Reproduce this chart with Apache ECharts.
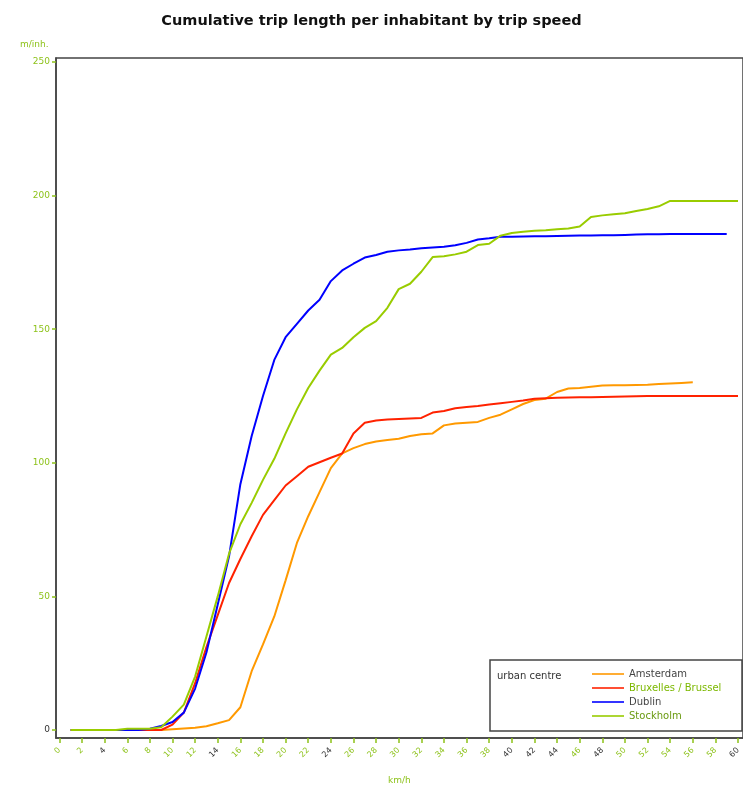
<!DOCTYPE html>
<html>
<head>
<meta charset="utf-8">
<title>Cumulative trip length per inhabitant by trip speed</title>
<script src="https://cdn.jsdelivr.net/npm/echarts@6/dist/echarts.min.js"></script>
<style>
  html, body { margin: 0; padding: 0; background: #fff; }
  #chart { width: 743px; height: 788px; }
</style>
</head>
<body>
<div id="chart"></div>
<script>
// Trip speed classes (km/h)
const speeds = [1,2,3,4,5,6,7,8,9,10,11,12,13,14,15,16,17,18,19,20,
  21,22,23,24,25,26,27,28,29,30,31,32,33,34,35,36,37,38,39,40,
  41,42,43,44,45,46,47,48,49,50,51,52,53,54,55,56,57,58,59,60];

// Cumulative trip length per inhabitant (m/inh.) for each speed class
const amsterdam = [0,0,0,0,0,0,0,0,0,0.3,0.6,0.8,1.4,2.5,3.7,8.5,22,32,42.5,56,
  70,80,89,98,103.5,105.5,107,108,108.5,109,110,110.7,111,114,114.7,115,115.3,116.8,118,120,
  122,123.5,124,126.5,127.8,128,128.5,128.9,129,129,129.1,129.2,129.5,129.7,129.9,130.1,null,null,null,null];

const bruxelles = [0,0,0,0,0,0,0,0,0,2,6.5,17.5,31,43,55,64,72.5,80.5,86,91.5,
  95,98.5,100.2,101.9,103.5,111,115,115.8,116.2,116.4,116.6,116.8,118.8,119.4,120.4,120.9,121.3,121.8,122.3,122.8,
  123.3,124,124.2,124.3,124.4,124.5,124.5,124.6,124.7,124.8,124.9,125,125,125,125,125,125,125,125,125];

const dublin = [0,0,0,0,0,0,0,0.5,1.5,3,6.5,15.5,29,47,65,92,110,125,138.5,147,
  152,157,161,168,172,174.5,176.8,177.8,179,179.5,179.8,180.3,180.6,180.9,181.4,182.3,183.6,184,184.6,184.6,
  184.7,184.8,184.8,184.9,185,185.1,185.1,185.2,185.2,185.3,185.4,185.5,185.5,185.6,185.6,185.6,185.6,185.6,185.6,null];

const stockholm = [0,0,0,0,0,0.5,0.5,0.5,1,5,9.5,20,35,50,66,77,85,93.6,101.5,111,
  120,128,134.5,140.5,143,147,150.5,153,158,165,167,171.5,177,177.3,178,179,181.5,182,185,186,
  186.5,186.8,187,187.4,187.7,188.4,192,192.6,193,193.4,194.2,195,196,198,198,198,198,198,198,198];

const seriesNames = ['Amsterdam', 'Bruxelles / Brussel', 'Dublin', 'Stockholm'];
const seriesColors = ['#ff9900', '#ff2200', '#0000ff', '#99cc00'];

// Axis tick labels
const xTicks = [0,2,4,6,8,10,12,14,16,18,20,22,24,26,28,30,32,34,36,38,40,42,44,46,48,50,52,54,56,58,60];
const yTicks = [0,50,100,150,200,250];

const green = '#8dc21a';
const darkLabels = [4, 14, 24, 40, 42, 44, 48, 60];

function pairs(values) {
  return speeds.map((s, i) => [s, values[i]]);
}

const chart = echarts.init(document.getElementById('chart'));

const seriesData = [amsterdam, bruxelles, dublin, stockholm];
const legendIcon = 'path://M0,4.2H32V5.8H0Z';
const legendTextColors = ['#444', '#7cb800', '#444', '#6a9a10'];

chart.setOption({
  animation: false,
  backgroundColor: '#ffffff',
  title: {
    text: 'Cumulative trip length per inhabitant by trip speed',
    left: 'center',
    top: 9,
    textStyle: {
      fontFamily: 'DejaVu Sans, Verdana, sans-serif',
      fontSize: 14.5,
      fontWeight: 'bold',
      color: '#111'
    }
  },
  grid: {
    left: 56,
    right: 0,
    top: 58,
    bottom: 50,
    show: true,
    borderColor: '#444',
    borderWidth: 1.5,
    containLabel: false
  },
  xAxis: {
    type: 'value',
    min: -0.3,
    max: 60.44,
    splitLine: { show: false },
    axisLine: { show: true, onZero: false, lineStyle: { color: '#444', width: 1.5 } },
    axisTick: {
      show: true,
      customValues: xTicks,
      length: 5,
      lineStyle: { color: green, width: 1.5 }
    },
    axisLabel: {
      customValues: xTicks,
      rotate: 45,
      margin: 11,
      fontFamily: 'DejaVu Sans, sans-serif',
      fontSize: 8,
      color: function (v) { return darkLabels.indexOf(Number(v)) >= 0 ? '#333' : green; }
    }
  },
  yAxis: {
    type: 'value',
    min: -3,
    max: 251.5,
    splitLine: { show: false },
    axisLine: { show: true, onZero: false, lineStyle: { color: '#444', width: 1.5 } },
    axisTick: {
      show: true,
      customValues: yTicks,
      length: 4,
      lineStyle: { color: green, width: 1.5 }
    },
    axisLabel: {
      customValues: yTicks,
      margin: 6,
      fontFamily: 'DejaVu Sans, sans-serif',
      fontSize: 9,
      color: function (v) { return Number(v) === 0 ? '#333' : green; }
    }
  },
  legend: {
    z: 20,
    orient: 'vertical',
    left: 592,
    top: 669,
    padding: 0,
    itemWidth: 32,
    itemHeight: 10,
    itemGap: 4,
    textStyle: {
      fontFamily: 'DejaVu Sans, sans-serif',
      fontSize: 10,
      lineHeight: 10,
      padding: [0, 0, 0, 0]
    },
    data: seriesNames.map((n, i) => ({
      name: n,
      icon: legendIcon,
      textStyle: { color: legendTextColors[i] }
    }))
  },
  graphic: [
    {
      type: 'rect',
      z: 1,
      shape: { x: 490, y: 660, width: 252, height: 71 },
      style: { fill: '#ffffff', stroke: '#444', lineWidth: 1.5 }
    },
    {
      type: 'text',
      z: 2,
      left: 497,
      top: 671,
      style: {
        text: 'urban centre',
        fill: '#333',
        font: '10px "DejaVu Sans", sans-serif'
      }
    },
    {
      type: 'text',
      left: 20,
      top: 40,
      style: {
        text: 'm/inh.',
        fill: green,
        font: '9px "DejaVu Sans", sans-serif'
      }
    },
    {
      type: 'text',
      left: 388,
      top: 776,
      style: {
        text: 'km/h',
        fill: green,
        font: '9px "DejaVu Sans", sans-serif'
      }
    }
  ],
  series: seriesData.map((vals, i) => ({
    name: seriesNames[i],
    type: 'line',
    data: pairs(vals),
    symbol: 'none',
    showSymbol: false,
    connectNulls: false,
    lineStyle: { color: seriesColors[i], width: 2 },
    itemStyle: { color: seriesColors[i] },
    z: 2 + i
  }))
});
</script>
</body>
</html>
